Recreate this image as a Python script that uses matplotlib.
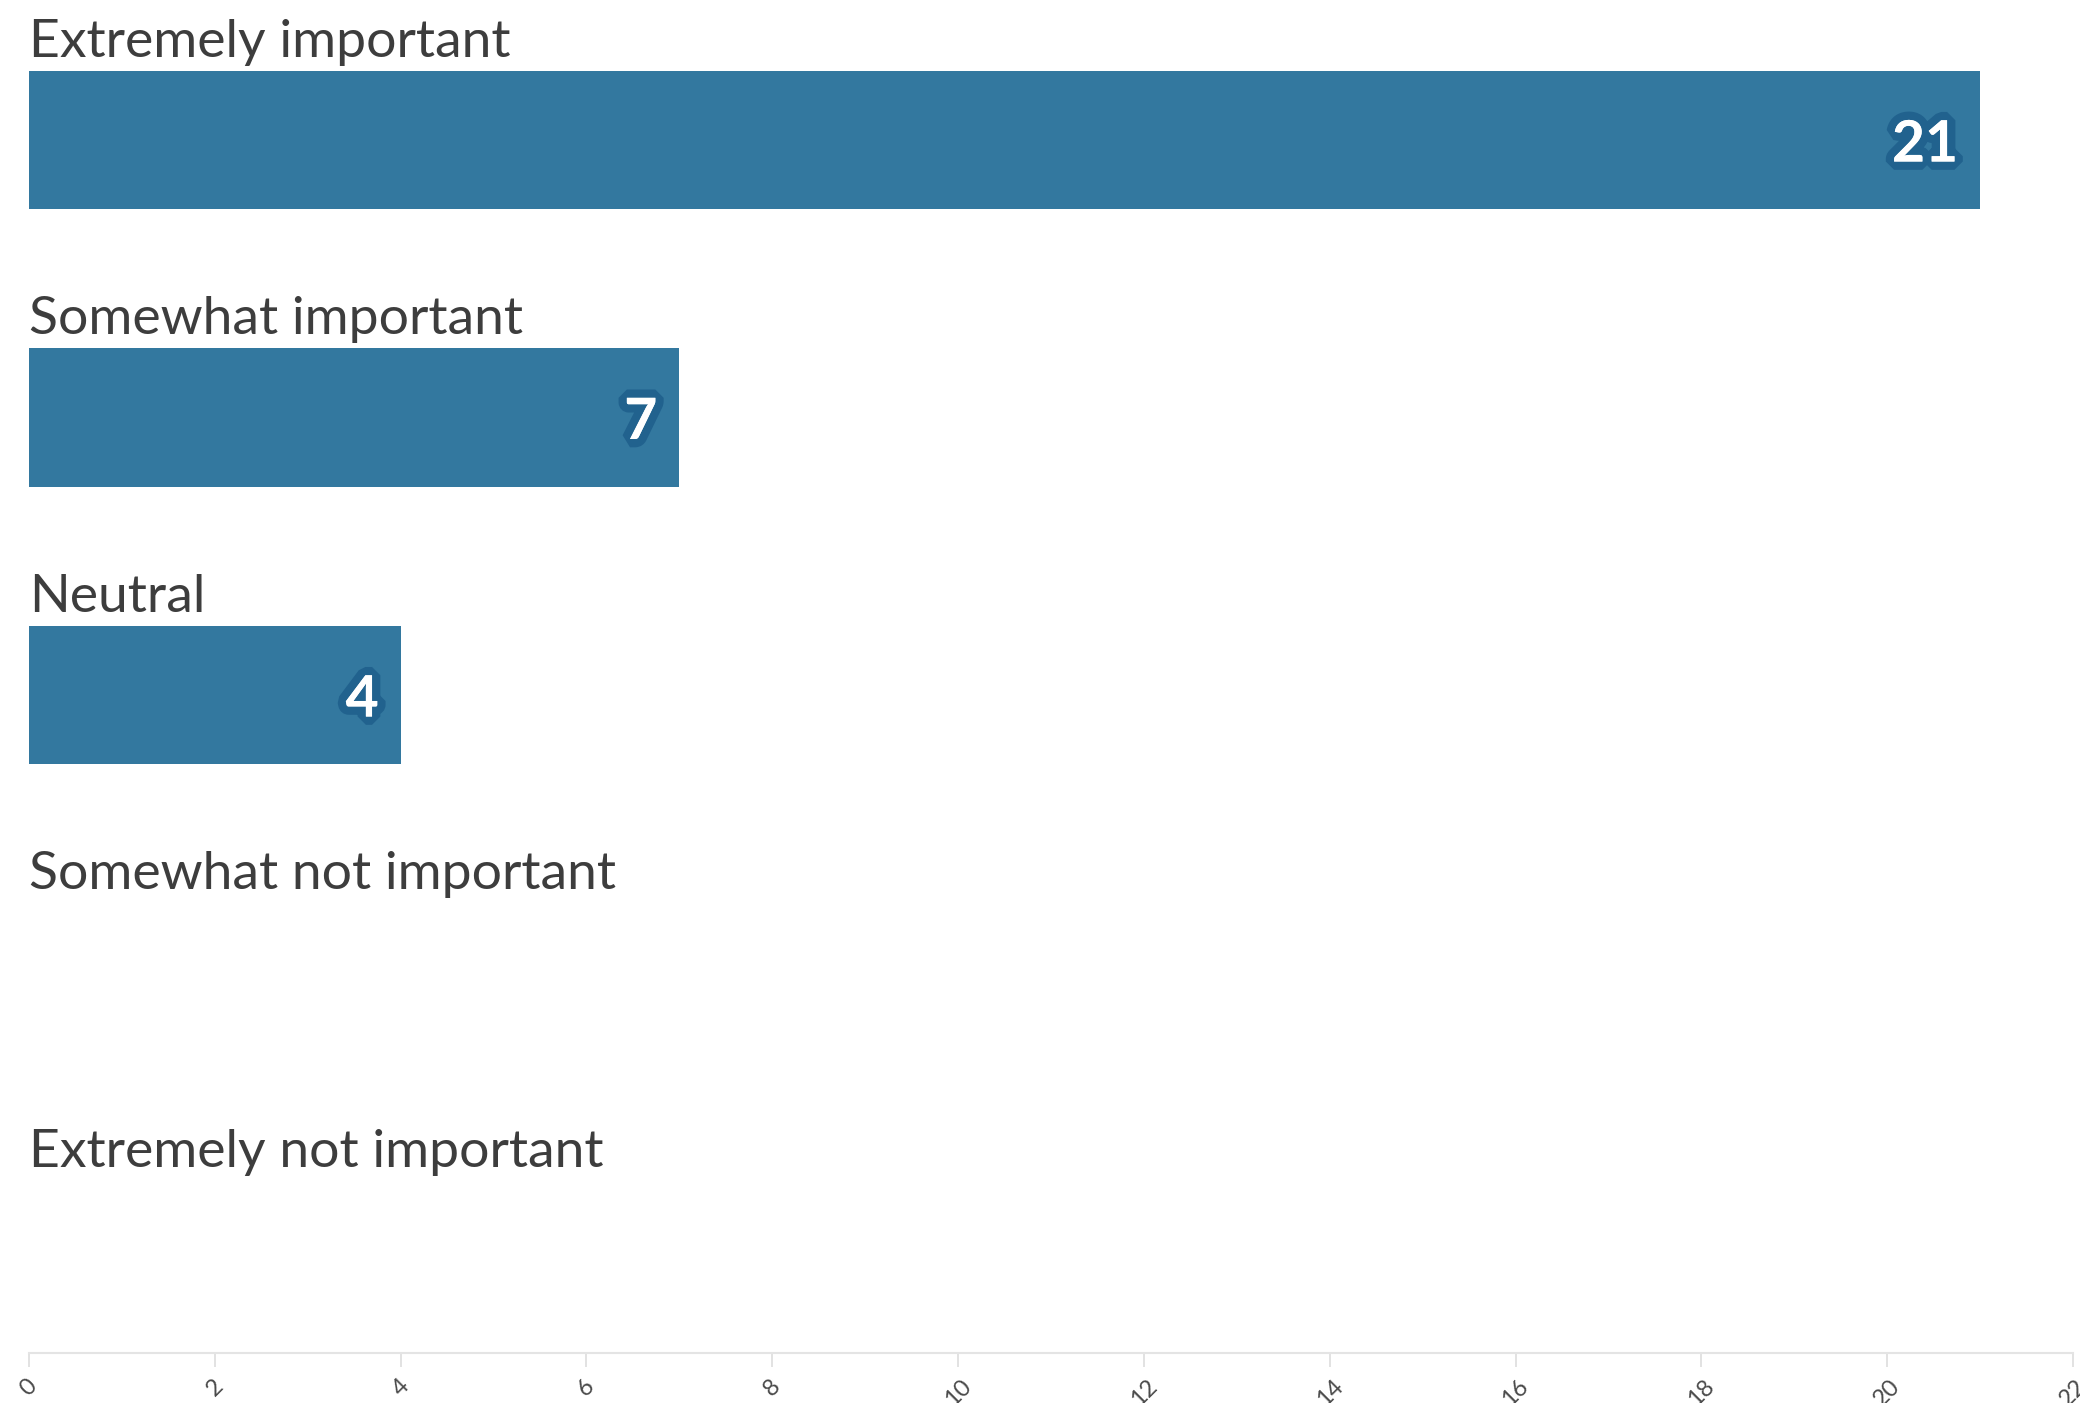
import matplotlib
matplotlib.use("Agg")
import matplotlib.pyplot as plt
import matplotlib.patheffects as pe

categories = ["Extremely important", "Somewhat important", "Neutral",
              "Somewhat not important", "Extremely not important"]
counts = [21, 7, 4, 0, 0]
x_ticks = [0, 2, 4, 6, 8, 10, 12, 14, 16, 18, 20, 22]

W, H = 2080, 1403
fig = plt.figure(figsize=(W / 100, H / 100), dpi=100)

# plot area in pixels
left_px, right_px = 29, 2073
top_px, bottom_px = 0, 1353
ax = fig.add_axes([left_px / W, 1 - bottom_px / H,
                   (right_px - left_px) / W, (bottom_px - top_px) / H])

band = 277.5          # pixels per category
first_center = 140.0  # pixel y of first bar centre
y0 = -first_center / band
y1 = (bottom_px - first_center) / band
ax.set_ylim(y1, y0)
ax.set_xlim(0, 22)

bar_color = "#33789f"
edge_color = "#21628e"
ypos = list(range(len(categories)))
ax.barh(ypos, counts, height=0.5, color=bar_color, edgecolor="none")

for y, cat, v in zip(ypos, categories, counts):
    ax.text(0.0, y - 0.25 - 14 / band, cat, fontsize=38.5, family="Lato",
            color="#3d3d3d", ha="left", va="baseline")
    if v > 0:
        t = ax.annotate(str(v), xy=(v, y), xytext=(-22, 0),
                        textcoords="offset pixels", ha="right", va="center_baseline",
                        fontsize=41, fontweight="bold", family="Lato",
                        color="white")
        t.set_path_effects([pe.withStroke(linewidth=12, foreground=edge_color,
                                          joinstyle="bevel"),
                            pe.Normal()])

ax.set_yticks([])
ax.set_xticks(x_ticks)
ax.set_xticklabels([str(t) for t in x_ticks], rotation=45, fontsize=17,
                   color="#4a4a4a", family="Lato")
ax.tick_params(axis="x", length=10, width=1.2, color="#dddddd", pad=6)
for s in ["top", "right", "left"]:
    ax.spines[s].set_visible(False)
ax.spines["bottom"].set_color("#e4e4e4")
ax.spines["bottom"].set_linewidth(1.5)
ax.patch.set_alpha(0)

fig.savefig("out.png", dpi=100)
